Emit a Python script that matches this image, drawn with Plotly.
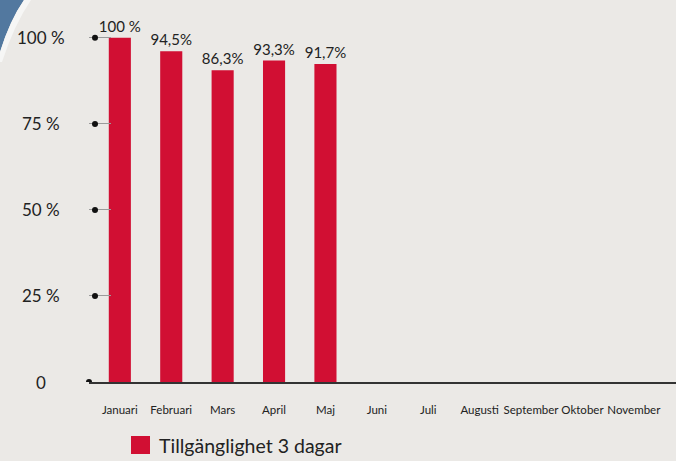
import plotly.graph_objects as go

months = ["Januari", "Februari", "Mars", "April", "Maj", "Juni", "Juli",
          "Augusti", "September", "Oktober", "November"]
values = [100, 96.1, 90.6, 93.4, 92.4]
value_labels = ["100 %", "94,5%", "86,3%", "93,3%", "91,7%"]
y_ticks = [0, 25, 50, 75, 100]
y_tick_labels = ["0", "25 %", "50 %", "75 %", "100 %"]
legend_name = "Tillgänglighet 3 dagar"

W, H = 676, 461
ML, MR, MT, MB = 89, 0, 0, 79
BG = "#ebe9e6"
RED = "#d10f33"
INK = "#222222"


def px(x):
    return (x - ML) / (W - ML - MR)


def py(y):
    return 1 - (y - MT) / (H - MT - MB)


fig = go.Figure()

fig.add_trace(go.Bar(
    x=months[:len(values)],
    y=values,
    text=value_labels,
    textposition="outside",
    constraintext="none",
    textfont=dict(size=15, color=INK, family="Lato"),
    cliponaxis=False,
    marker=dict(color=RED, line=dict(width=0)),
    name=legend_name,
    showlegend=False,
))

shapes = []
# corner decoration
shapes.append(dict(type="path", xref="paper", yref="paper", layer="above",
                   path=f"M {px(0)},{py(0)} L {px(24)},{py(0)} Q {px(10)},{py(20)} {px(0)},{py(52)} Z",
                   fillcolor="#52789f", line=dict(width=0)))
shapes.append(dict(type="path", xref="paper", yref="paper", layer="above",
                   path=(f"M {px(24)},{py(0)} L {px(31)},{py(0)} Q {px(14)},{py(25)} {px(2)},{py(62)} "
                         f"L {px(0)},{py(62)} L {px(0)},{py(52)} Q {px(10)},{py(20)} {px(24)},{py(0)} Z"),
                   fillcolor="#f6f6f5", line=dict(width=0)))

# tick dots
for v in y_ticks:
    cx = px(89) if v == 0 else px(95)
    shapes.append(dict(type="circle", xref="paper", yref="y", xsizemode="pixel", ysizemode="pixel",
                       xanchor=cx, yanchor=v, x0=-3, x1=3, y0=-3, y1=3,
                       fillcolor="#111111", line=dict(width=0), layer="above"))

# legend swatch
shapes.append(dict(type="rect", xref="paper", yref="paper",
                   x0=px(131), x1=px(150), y0=py(454), y1=py(436),
                   fillcolor=RED, line=dict(width=0)))

annotations = []
for v, t in zip(y_ticks, y_tick_labels):
    annotations.append(dict(x=px(41), y=v, xref="paper", yref="y", text=t, showarrow=False,
                            xanchor="center", yanchor="middle",
                            font=dict(size=17, color=INK, family="Lato")))
annotations.append(dict(x=px(157), y=py(445), xref="paper", yref="paper", text=legend_name,
                        showarrow=False, xanchor="left", yanchor="middle",
                        font=dict(size=19.5, color=INK, family="Lato")))

fig.update_layout(
    width=W, height=H,
    margin=dict(l=ML, r=MR, t=MT, b=MB, autoexpand=False),
    paper_bgcolor=BG, plot_bgcolor=BG,
    bargap=0.57,
    shapes=shapes,
    annotations=annotations,
    font=dict(family="Lato", color=INK),
    xaxis=dict(type="category", categoryorder="array", categoryarray=months,
               range=[-0.6, 10.82], showgrid=False, zeroline=False,
               showline=True, linecolor="#333333", linewidth=1.5,
               ticks="", ticklabelstandoff=16, tickangle=0, automargin=False,
               tickfont=dict(size=11.5, color=INK, family="Lato")),
    yaxis=dict(range=[0, 111], tickvals=y_ticks, showticklabels=False,
               showgrid=False, zeroline=False, showline=False, automargin=False,
               ticks="inside", ticklen=22, tickcolor="#9a9a9a", tickwidth=1),
)

fig.write_html("out.html", config={"displayModeBar": False},
               post_script="document.body.style.margin='0';")
